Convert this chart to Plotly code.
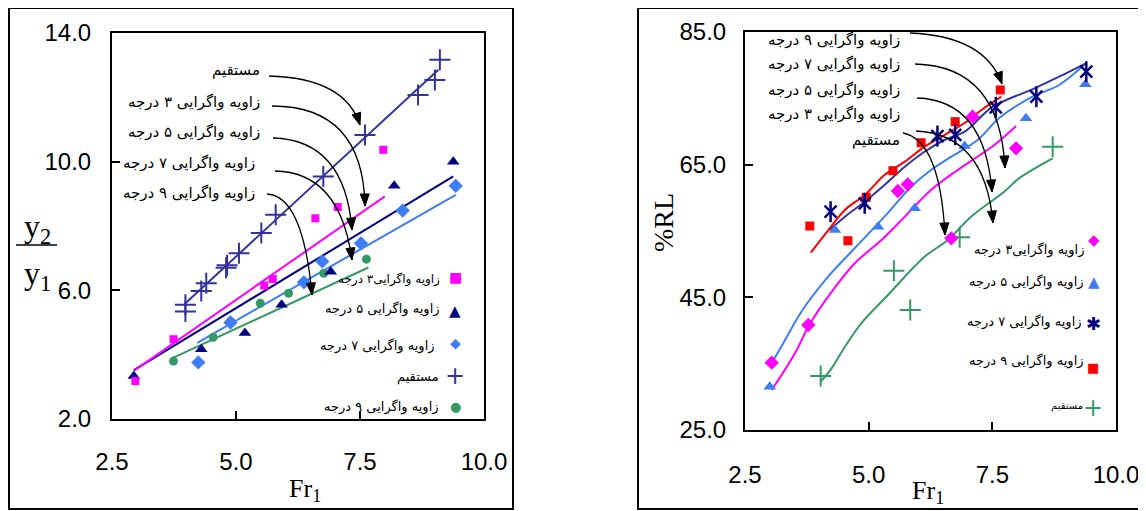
import plotly.graph_objects as go

# page is 1146x511; body has an 8px margin, so the figure is 1138x503 placed at (8, 8)
OFF = 8
W, H = 1146 - OFF, 511 - OFF

# ---------------- Left chart: y2/y1 vs Fr1 ----------------
L_straight_x = [3.98, 3.98, 4.30, 4.40, 4.80, 4.82, 5.06, 5.51, 5.80, 6.76, 7.60, 8.67, 9.01, 9.11]
L_straight_y = [5.55, 5.34, 5.98, 6.22, 6.70, 6.78, 7.15, 7.78, 8.35, 9.54, 10.83, 12.07, 12.54, 13.17]
L_straight_fit_x = [3.97, 9.08]
L_straight_fit_y = [5.58, 12.86]

L_deg3_x = [2.97, 3.74, 5.57, 5.74, 6.60, 7.05, 7.97]
L_deg3_y = [3.18, 4.48, 6.15, 6.35, 8.24, 8.59, 10.37]
L_deg3_fit_x = [2.96, 8.00]
L_deg3_fit_y = [3.52, 8.92]

L_deg5_x = [2.94, 4.30, 5.18, 5.92, 6.91, 8.19, 9.38]
L_deg5_y = [3.34, 4.17, 4.67, 5.55, 6.58, 9.25, 10.00]
L_deg5_fit_x = [2.94, 9.38]
L_deg5_fit_y = [3.52, 9.54]

L_deg7_x = [4.24, 4.89, 6.37, 6.74, 7.52, 8.36, 9.43]
L_deg7_y = [3.76, 5.00, 6.25, 6.90, 7.46, 8.48, 9.25]
L_deg7_fit_x = [4.22, 9.43]
L_deg7_fit_y = [4.37, 8.97]

L_deg9_x = [3.74, 4.54, 4.89, 5.49, 6.06, 6.77, 7.63]
L_deg9_y = [3.80, 4.54, 5.03, 5.60, 5.91, 6.53, 6.97]
L_deg9_fit_x = [3.74, 7.67]
L_deg9_fit_y = [3.91, 6.71]

L_xticks = [2.5, 5.0, 7.5, 10.0]
L_yticks = [2.0, 6.0, 10.0, 14.0]

# ---------------- Right chart: %RL vs Fr1 ----------------
R_deg3_x = [3.04, 3.78, 5.59, 5.79, 6.67, 7.10, 7.98]
R_deg3_y = [35.15, 40.83, 61.03, 62.04, 53.90, 72.23, 67.47]
R_deg3_cx = [3.04, 3.51, 3.78, 4.18, 4.72, 5.26, 5.73, 6.26, 6.80, 7.20, 7.54, 7.98]
R_deg3_cy = [31.03, 36.56, 40.57, 45.10, 50.13, 53.64, 57.16, 61.18, 64.20, 66.20, 67.96, 70.83]

R_deg5_x = [3.00, 4.32, 5.19, 5.93, 6.94, 8.18, 9.38]
R_deg5_y = [31.53, 55.15, 55.65, 58.42, 67.81, 71.99, 77.12]
R_deg5_cx = [3.04, 3.31, 3.64, 4.18, 4.65, 5.32, 5.86, 6.26, 6.67, 7.20, 7.64, 8.31, 8.85, 9.39]
R_deg5_cy = [35.06, 38.57, 42.83, 48.11, 51.88, 57.16, 61.68, 64.20, 66.20, 68.72, 72.03, 75.25, 77.01, 80.28]

R_deg7_x = [4.23, 4.92, 6.39, 6.75, 7.57, 8.39, 9.40]
R_deg7_y = [57.91, 59.17, 69.32, 69.50, 73.64, 75.25, 79.02]
R_deg7_cx = [4.21, 4.52, 4.92, 5.32, 5.73, 6.13, 6.53, 6.94, 7.51, 8.31, 8.85, 9.39]
R_deg7_cy = [55.15, 57.16, 59.42, 61.93, 64.69, 66.95, 68.72, 69.97, 73.74, 76.36, 78.26, 80.28]

R_deg9_x = [3.81, 4.58, 4.95, 5.49, 6.06, 6.75, 7.66]
R_deg9_y = [55.75, 53.54, 60.08, 64.09, 68.31, 71.48, 76.26]
R_deg9_cx = [3.83, 4.11, 4.52, 4.92, 5.32, 5.73, 6.13, 6.53, 6.94, 7.28, 7.68]
R_deg9_cy = [51.73, 54.40, 58.17, 60.43, 63.44, 65.45, 67.71, 69.47, 71.28, 73.24, 75.25]

R_straight_x = [4.03, 5.51, 5.84, 6.84, 8.72]
R_straight_y = [33.14, 49.02, 43.09, 54.05, 67.71]
R_straight_cx = [4.03, 4.25, 4.52, 4.85, 5.39, 5.73, 6.13, 6.60, 7.07, 7.74, 8.04, 8.72]
R_straight_cy = [32.28, 34.30, 37.56, 41.08, 45.35, 48.11, 51.13, 53.64, 57.16, 60.92, 62.94, 65.96]

R_xticks = [2.5, 5.0, 7.5, 10.0]
R_yticks = [25.0, 45.0, 65.0, 85.0]

# labels
T_straight = "مستقیم"
T3 = "زاویه واگرایی ۳ درجه"
T5 = "زاویه واگرایی ۵ درجه"
T7 = "زاویه واگرایی ۷ درجه"
T9 = "زاویه واگرایی ۹ درجه"
T3_leg = "زاویه واگرایی۳ درجه"

# colours
C_PLUS = "#333399"
C_MAG = "#FF00FF"
C_NAVY = "#000080"
C_BLUE = "#3D7EF5"
C_GREEN = "#339966"
C_RED = "#FF0000"

FA = "Liberation Sans, Arial, sans-serif"
FT = "Liberation Serif, Times New Roman, serif"
FP = "DejaVu Sans, sans-serif"


def px(x):
    return (x - OFF) / W


def py(y):
    return 1 - (y - OFF) / H


fig = go.Figure()


def add_line(x, y, color, xa, ya, width=2, shape="linear"):
    fig.add_trace(go.Scatter(x=x, y=y, mode="lines", line=dict(color=color, width=width, shape=shape),
                             xaxis=xa, yaxis=ya, showlegend=False, hoverinfo="skip"))


def add_pts(x, y, color, symbol, size, xa, ya, lw=0):
    fig.add_trace(go.Scatter(x=x, y=y, mode="markers",
                             marker=dict(color=color, symbol=symbol, size=size,
                                         line=dict(color=color, width=lw)),
                             xaxis=xa, yaxis=ya, showlegend=False))


# ---- left traces
add_line(L_deg9_fit_x, L_deg9_fit_y, C_GREEN, "x", "y")
add_line(L_deg7_fit_x, L_deg7_fit_y, C_BLUE, "x", "y")
add_line(L_deg5_fit_x, L_deg5_fit_y, C_NAVY, "x", "y")
add_line(L_deg3_fit_x, L_deg3_fit_y, C_MAG, "x", "y")
add_line(L_straight_fit_x, L_straight_fit_y, C_PLUS, "x", "y")
add_pts(L_deg9_x, L_deg9_y, C_GREEN, "circle", 9, "x", "y")
add_pts(L_deg7_x, L_deg7_y, C_BLUE, "diamond", 11, "x", "y")
add_pts(L_deg5_x, L_deg5_y, C_NAVY, "triangle-up", 11, "x", "y")
add_pts(L_deg3_x, L_deg3_y, C_MAG, "square", 8, "x", "y")
add_pts(L_straight_x, L_straight_y, C_PLUS, "cross-thin-open", 15, "x", "y", lw=2)

# ---- right traces
add_line(R_straight_cx, R_straight_cy, C_GREEN, "x2", "y2", shape="spline")
add_line(R_deg3_cx, R_deg3_cy, C_MAG, "x2", "y2", shape="spline")
add_line(R_deg5_cx, R_deg5_cy, C_BLUE, "x2", "y2", shape="spline")
add_line(R_deg7_cx, R_deg7_cy, C_PLUS, "x2", "y2", shape="spline")
add_line(R_deg9_cx, R_deg9_cy, C_RED, "x2", "y2", shape="spline")
add_pts(R_straight_x, R_straight_y, C_GREEN, "cross-thin-open", 15, "x2", "y2", lw=2)
add_pts(R_deg3_x, R_deg3_y, C_MAG, "diamond", 11, "x2", "y2")
add_pts(R_deg5_x, R_deg5_y, C_BLUE, "triangle-up", 11, "x2", "y2")
add_pts(R_deg9_x, R_deg9_y, C_RED, "square", 9, "x2", "y2")
add_pts(R_deg7_x, R_deg7_y, C_NAVY, "x-thin-open", 12, "x2", "y2", lw=2.5)
add_pts(R_deg7_x, R_deg7_y, C_NAVY, "line-ns-open", 15, "x2", "y2", lw=2.5)

axis_common = dict(showgrid=False, zeroline=False, showline=True, linecolor="black", linewidth=2,
                   mirror=True, ticks="inside", ticklen=8, tickwidth=1.5, tickcolor="black",
                   automargin=False,
                   tickfont=dict(family=FA, size=24, color="black"), tickformat=".1f")

fig.update_layout(
    width=W, height=H, margin=dict(l=0, r=0, t=0, b=0, pad=0, autoexpand=False),
    paper_bgcolor="white", plot_bgcolor="white", showlegend=False,
    xaxis=dict(axis_common, domain=[px(112), px(484)], range=[2.5, 10], tickvals=L_xticks,
               anchor="y", ticklabelstandoff=20),
    yaxis=dict(axis_common, domain=[py(419), py(33)], range=[2, 14], tickvals=L_yticks,
               anchor="x", ticklabelstandoff=14),
    xaxis2=dict(axis_common, domain=[px(745), px(1116)], range=[2.5, 10], tickvals=R_xticks,
                anchor="y2", ticklabelstandoff=22),
    yaxis2=dict(axis_common, domain=[py(430), py(32)], range=[25, 85], tickvals=R_yticks,
                anchor="x2", ticklabelstandoff=12),
)

shapes = []
annotations = []

# outer frames
for (x0, y0, x1, y1) in [(9, 8, 513, 509), (638, 8, 1139, 509)]:
    shapes.append(dict(type="rect", xref="paper", yref="paper", x0=px(x0), x1=px(x1),
                       y0=py(y1), y1=py(y0), line=dict(color="black", width=2)))


def text_at(text, x, y, size, family, color="black", xanchor="center", angle=0):
    annotations.append(dict(x=px(x), y=py(y), xref="paper", yref="paper", text=text,
                            showarrow=False, xanchor=xanchor, yanchor="middle", textangle=angle,
                            font=dict(family=family, size=size, color=color)))


# axis titles
text_at("Fr<sub>1</sub>", 305, 490, 26, FT)
text_at("Fr<sub>1</sub>", 928, 492, 26, FT)
text_at("%RL", 663, 223, 28, FT, angle=-90)
text_at("y<sub>2</sub>", 37, 229, 32, FT)
text_at("y<sub>1</sub>", 37, 275, 32, FT)
shapes.append(dict(type="line", xref="paper", yref="paper", x0=px(16), x1=px(57),
                   y0=py(245), y1=py(245), line=dict(color="black", width=1.5)))


def curved_arrow(tail, ctrl, head):
    path = "M {},{} Q {},{} {},{}".format(px(tail[0]), py(tail[1]), px(ctrl[0]), py(ctrl[1]),
                                          px(head[0]), py(head[1]))
    shapes.append(dict(type="path", xref="paper", yref="paper", path=path,
                       line=dict(color="black", width=1.3)))
    dx, dy = head[0] - ctrl[0], head[1] - ctrl[1]
    n = (dx * dx + dy * dy) ** 0.5
    ux, uy = dx / n, dy / n
    L, hw = 12.0, 4.5
    bx, by = head[0] - ux * L, head[1] - uy * L
    p1 = (bx - uy * hw, by + ux * hw)
    p2 = (bx + uy * hw, by - ux * hw)
    tri = "M {},{} L {},{} L {},{} Z".format(px(head[0]), py(head[1]), px(p1[0]), py(p1[1]),
                                             px(p2[0]), py(p2[1]))
    shapes.append(dict(type="path", xref="paper", yref="paper", path=tri,
                       fillcolor="black", line=dict(color="black", width=1)))


def label(text, x, y, size=15):
    text_at(text, x, y, size, FP, xanchor="right")


def glyph(ch, color, x, y, size):
    text_at(ch, x, y, size, "DejaVu Sans", color=color)


# left annotations with curved arrows
label(T_straight, 262, 70)
label(T3, 262, 102)
label(T5, 262, 132)
label(T7, 257, 163)
label(T9, 257, 193)
curved_arrow((269, 76), (345, 78), (360, 125))
curved_arrow((272, 106), (363, 106), (365, 206))
curved_arrow((273, 138), (345, 140), (352, 230))
curved_arrow((275, 171), (340, 172), (352, 260))
curved_arrow((267, 194), (303, 196), (312, 295))

# left legend
label(T3_leg, 442, 279, size=12)
label(T5, 442, 309, size=13)
label(T7, 437, 346, size=13)
label(T_straight, 441, 377, size=13)
label(T9, 441, 407, size=13)
glyph("■", C_MAG, 455, 277, 14)
glyph("▲", C_NAVY, 455, 311, 15)
glyph("◆", C_BLUE, 455, 343, 14)
glyph("+", C_PLUS, 455, 376, 24)
glyph("●", C_GREEN, 455, 406, 13)

# right annotations with curved arrows
label(T9, 902, 40)
label(T7, 902, 64)
label(T5, 902, 90)
label(T3, 902, 114)
label(T_straight, 902, 140)
curved_arrow((910, 33), (985, 36), (1002, 84))
curved_arrow((915, 64), (1000, 66), (1005, 168))
curved_arrow((917, 98), (985, 100), (992, 192))
curved_arrow((916, 131), (985, 134), (993, 223))
curved_arrow((903, 133), (940, 140), (945, 235))

# right legend
label(T3_leg, 1086, 250, size=13)
label(T5, 1086, 282, size=13)
label(T7, 1084, 322, size=13)
label(T9, 1086, 361, size=13)
label(T_straight, 1085, 406, size=10)
glyph("◆", C_MAG, 1094, 240, 15)
glyph("▲", C_BLUE, 1094, 282, 15)
glyph("✱", C_NAVY, 1093, 323, 18)
glyph("■", C_RED, 1093, 367, 13)
glyph("+", C_GREEN, 1093, 408, 24)

fig.update_layout(shapes=shapes, annotations=annotations)
fig.write_html("out.html")
